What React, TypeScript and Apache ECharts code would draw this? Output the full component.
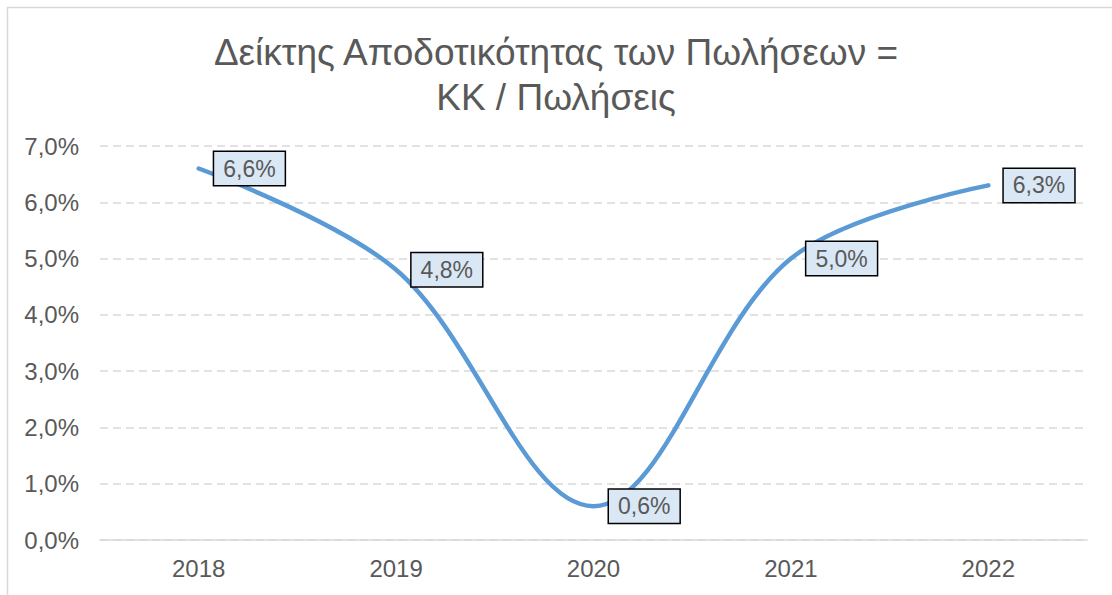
import React, { useEffect, useRef } from "react";
import * as echarts from "echarts";

const titleLines = ["Δείκτης Αποδοτικότητας των Πωλήσεων =", "ΚΚ / Πωλήσεις"];
const years = ["2018", "2019", "2020", "2021", "2022"];
const ratioValues = [6.6, 4.8, 0.6, 5.0, 6.3];
const yTicks = [0, 1, 2, 3, 4, 5, 6, 7];

const fmt = (v: number) => v.toFixed(1).replace(".", ",") + "%";

export default function App() {
  const ref = useRef<HTMLDivElement>(null);
  useEffect(() => {
    document.body.style.margin = "0";
    const chart = echarts.init(ref.current!, null, { renderer: "svg" });
    const font = "Arial, 'Liberation Sans', sans-serif";
    chart.setOption({
      animation: false,
      backgroundColor: "#ffffff",
      title: {
        text: titleLines.join("\n"),
        left: "center",
        top: 25,
        textStyle: {
          fontFamily: font,
          fontSize: 37,
          fontWeight: "normal",
          color: "#595959",
          lineHeight: 45,
        },
      },
      graphic: [
        {
          type: "rect",
          shape: { x: 7.5, y: 7.5, width: 1300, height: 800 },
          style: { fill: "none", stroke: "#d9d9d9", lineWidth: 1.5 },
          silent: true,
        },
      ],
      grid: { left: 100, right: 25, top: 146, bottom: 55 },
      xAxis: {
        type: "category",
        data: years,
        boundaryGap: true,
        axisLine: { lineStyle: { color: "#d9d9d9", width: 1.5 } },
        axisTick: { show: false },
        axisLabel: {
          fontFamily: font,
          fontSize: 24,
          color: "#595959",
          margin: 16,
        },
      },
      yAxis: {
        type: "value",
        min: yTicks[0],
        max: yTicks[yTicks.length - 1],
        interval: 1,
        axisLine: { show: false },
        axisTick: { show: false },
        splitLine: {
          lineStyle: { color: "#d9d9d9", width: 1.5, type: [8, 5] },
        },
        axisLabel: {
          fontFamily: font,
          fontSize: 24,
          color: "#595959",
          margin: 21,
          formatter: (v: number) => fmt(v),
        },
      },
      series: [
        {
          type: "line",
          data: ratioValues,
          smooth: 0.35,
          showSymbol: true,
          symbol: "circle",
          symbolSize: 1,
          itemStyle: { color: "rgba(0,0,0,0)" },
          lineStyle: { color: "#5b9bd5", width: 4.5, cap: "round" },
          label: {
            show: true,
            position: "right",
            distance: 15,
            formatter: (p: any) => fmt(p.value),
            fontFamily: font,
            fontSize: 23,
            color: "#595959",
            backgroundColor: "#dae8f5",
            borderColor: "#000000",
            borderWidth: 1.5,
            padding: [5, 9, 4, 9],
            lineHeight: 24,
          },
          labelLayout: { hideOverlap: false },
        },
      ],
    });
    return () => chart.dispose();
  }, []);
  return <div ref={ref} style={{ width: 1112, height: 595 }} />;
}
